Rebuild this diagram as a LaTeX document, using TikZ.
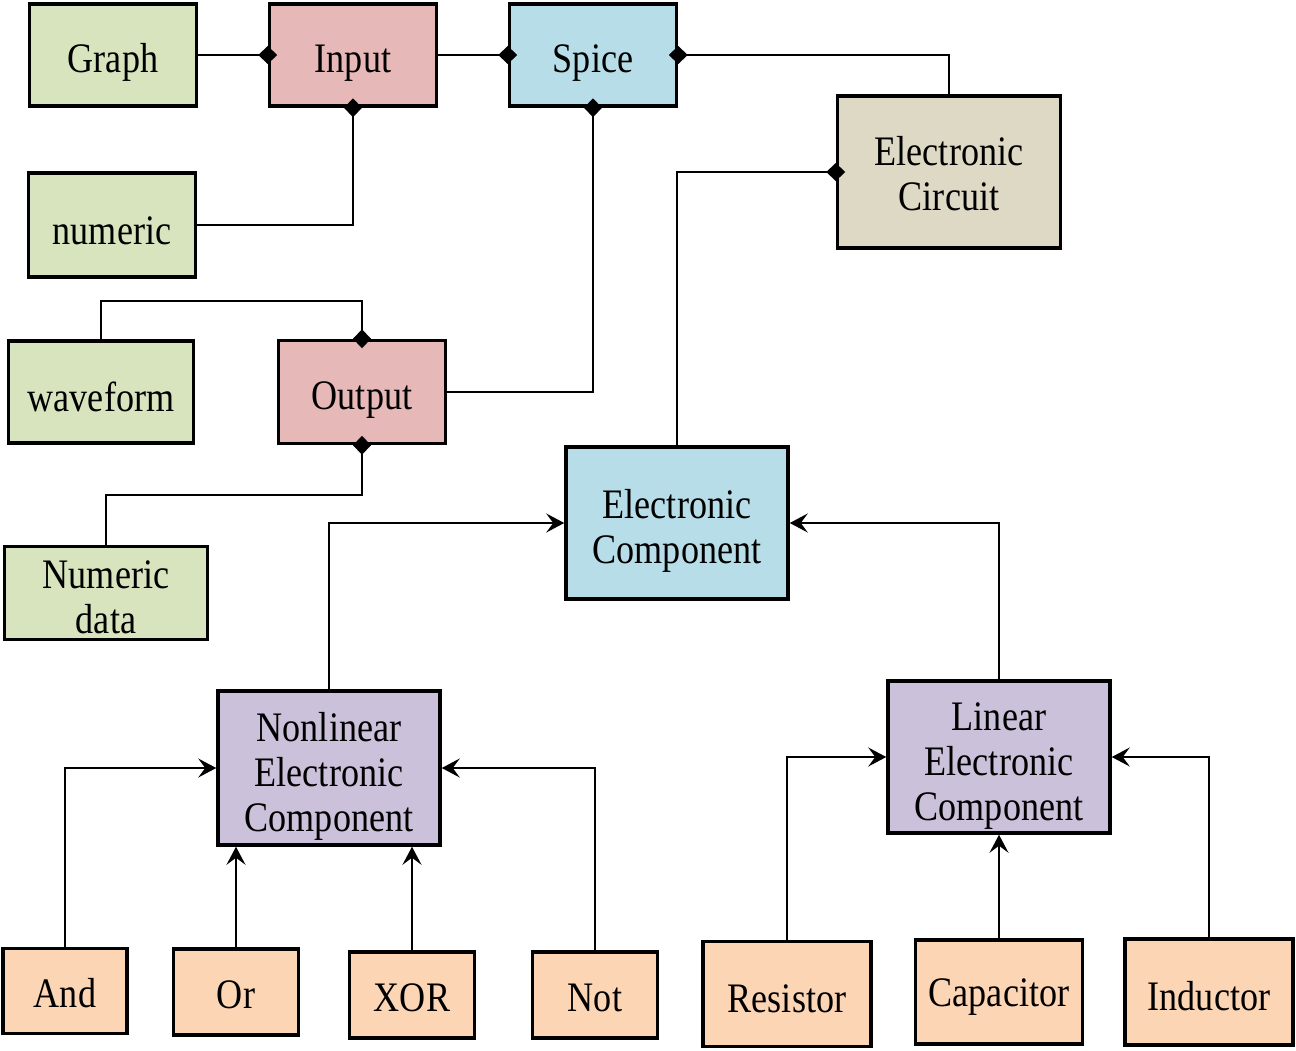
\documentclass[tikz,border=0pt]{standalone}
\usepackage{fontspec}
\setmainfont[FakeStretch=0.86]{Liberation Serif}
\usetikzlibrary{arrows.meta}
\definecolor{cgreen}{HTML}{D7E4BD}
\definecolor{cpink}{HTML}{E6B9B8}
\definecolor{cblue}{HTML}{B7DEE8}
\definecolor{ctan}{HTML}{DDD9C4}
\definecolor{cpurple}{HTML}{CCC1DA}
\definecolor{cpeach}{HTML}{FCD5B5}
\newcommand\myLift[1]{\rule{0pt}{#1pt}}
\tikzset{
  box/.style={draw=black, line width=3.5pt, rectangle, inner sep=0pt, align=center,
    font=\fontsize{42pt}{45pt}\selectfont},
  dia/.style={line width=1.9pt, -{Diamond[length=19pt,width=18pt]}, shorten >=-9.5pt},
  arr/.style={line width=1.9pt, -{Stealth[length=18pt,width=19pt,inset=7pt]}},
}
\begin{document}
\begin{tikzpicture}[x=1pt,y=-1pt]
\useasboundingbox (0,0) rectangle (1296,1050);
% top row
\node[box, fill=cgreen, minimum width=167pt, minimum height=102pt] (graph) at (113,55) {\myLift{43}Graph};
\node[box, fill=cpink, minimum width=167pt, minimum height=102pt] (input) at (353,55) {\myLift{43}Input};
\node[box, fill=cblue, minimum width=167pt, minimum height=102pt] (spice) at (593,55) {\myLift{43}Spice};
\node[box, fill=ctan, minimum width=223pt, minimum height=152pt] (circ) at (949,172) {\myLift{33}Electronic\\Circuit};
\node[box, fill=cgreen, minimum width=167pt, minimum height=104pt] (numeric) at (112,225) {\myLift{40}numeric};
\node[box, fill=cgreen, minimum width=185pt, minimum height=102pt] (wave) at (101,392) {\myLift{40}waveform};
\node[box, fill=cpink, minimum width=167pt, minimum height=103pt] (output) at (362,392) {\myLift{43}Output};
\node[box, fill=cgreen, minimum width=203pt, minimum height=93pt] (ndata) at (106,593) {\myLift{37}Numeric\\data};
\node[box, fill=cblue, minimum width=222pt, minimum height=152pt] (ec) at (677,523) {\myLift{45}Electronic\\Component};
\node[box, fill=cpurple, minimum width=222pt, minimum height=154pt] (nl) at (329,768) {\myLift{45}Nonlinear\\Electronic\\Component};
\node[box, fill=cpurple, minimum width=222pt, minimum height=152pt] (lin) at (999,757) {\myLift{45}Linear\\Electronic\\Component};
% bottom row
\node[box, fill=cpeach, minimum width=124pt, minimum height=85pt] (and) at (65,991) {\myLift{34}And};
\node[box, fill=cpeach, minimum width=125pt, minimum height=86pt] (or) at (236,992) {\myLift{34}Or};
\node[box, fill=cpeach, minimum width=125pt, minimum height=86pt] (xor) at (412,995) {\myLift{34}XOR};
\node[box, fill=cpeach, minimum width=125pt, minimum height=86pt] (not) at (595,995) {\myLift{34}Not};
\node[box, fill=cpeach, minimum width=168pt, minimum height=105pt] (res) at (787,994) {\myLift{38}Resistor};
\node[box, fill=cpeach, minimum width=167pt, minimum height=104pt] (cap) at (999,992) {\myLift{38}Capacitor};
\node[box, fill=cpeach, minimum width=168pt, minimum height=106pt] (ind) at (1209,992) {\myLift{38}Inductor};
% aggregation connectors
\draw[dia] (graph.east) -- (input.west);
\draw[dia] (input.east) -- (spice.west);
\draw[dia] (numeric.east) -| (input.south);
\draw[dia] (circ.north) |- (spice.east);
\draw[dia] (output.east) -| (spice.south);
\draw[dia] (wave.north) -- ++(0,-38) -| (output.north);
\draw[dia] (ndata.north) -- ++(0,-50) -| (output.south);
\draw[dia] (ec.north) |- (circ.west);
% inheritance connectors
\draw[arr] (nl.north) |- (ec.west);
\draw[arr] (lin.north) |- (ec.east);
\draw[arr] (and.north) |- (nl.west);
\draw[arr] (or.north) -- (or.north |- nl.south);
\draw[arr] (xor.north) -- (xor.north |- nl.south);
\draw[arr] (not.north) |- (nl.east);
\draw[arr] (res.north) |- (lin.west);
\draw[arr] (cap.north) -- (cap.north |- lin.south);
\draw[arr] (ind.north) |- (lin.east);
\end{tikzpicture}
\end{document}
